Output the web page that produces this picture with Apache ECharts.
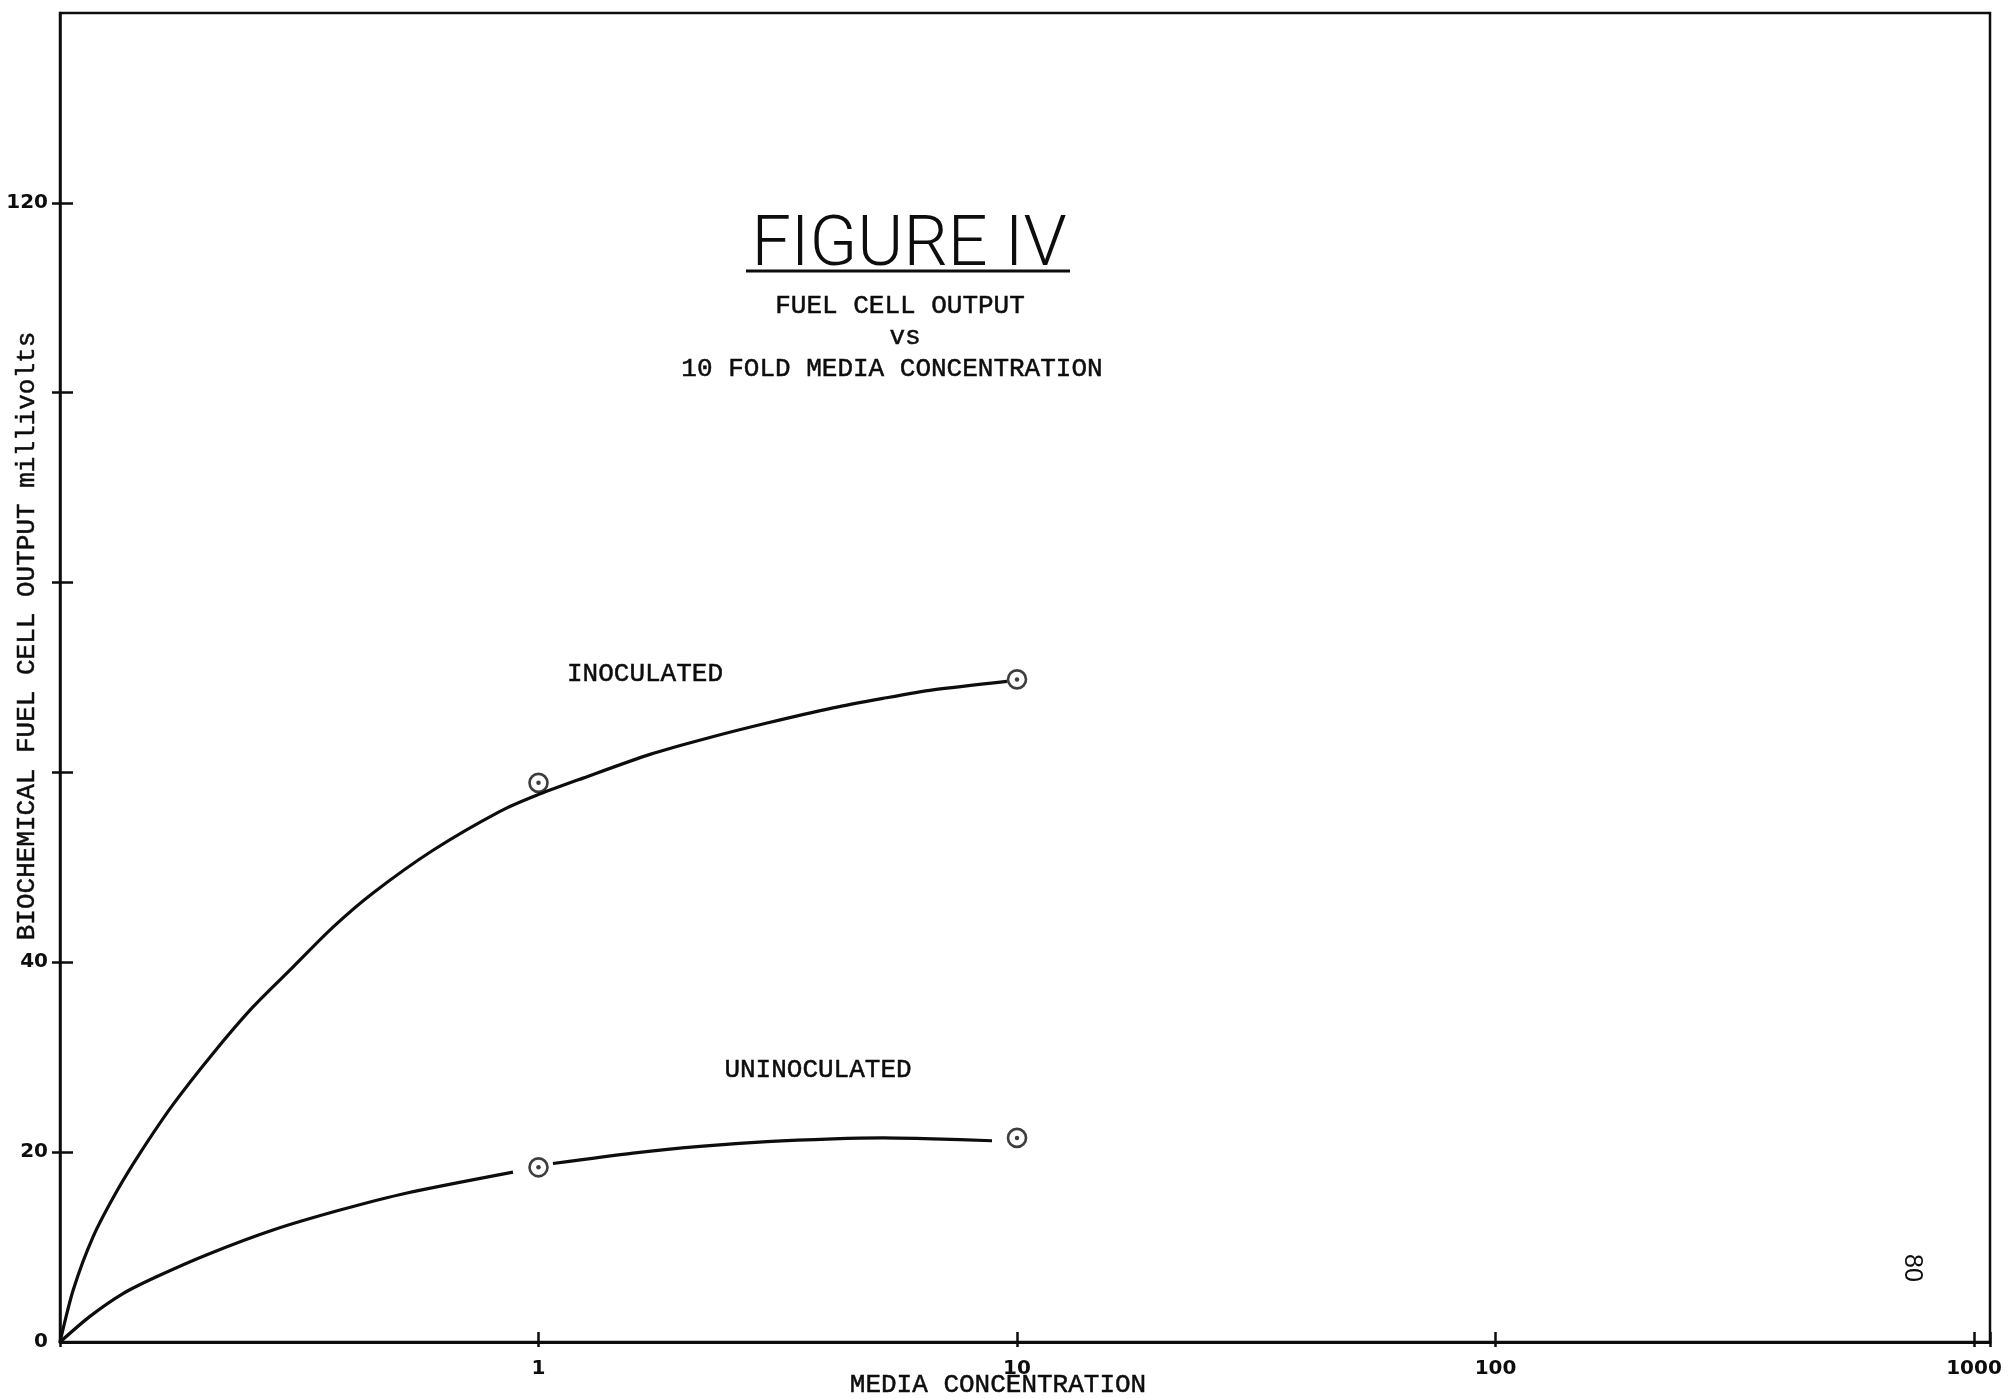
<!DOCTYPE html>
<html>
<head>
<meta charset="utf-8">
<title>Fuel Cell Output vs 10 Fold Media Concentration</title>
<script src="https://cdn.jsdelivr.net/npm/echarts@6/dist/echarts.min.js"></script>
<style>
  html, body { margin: 0; padding: 0; background: #ffffff; }
  #chart { width: 2016px; height: 1399px; }
</style>
</head>
<body>
<div id="chart"></div>
<script>
// Media concentration (log scale) against biochemical fuel cell output (mV).

// Hand-fitted curve through the inoculated cell readings
const inoculatedCurveX = [0.1, 0.1066, 0.1173, 0.1315, 0.147, 0.1722, 0.2088, 0.2531, 0.3068, 0.372, 0.451, 0.6019, 0.8308, 0.991, 1.239, 1.71, 2.25, 3.003, 4.126, 5.248, 6.675, 9.53];
const inoculatedCurveY = [0, 5.5, 11.1, 15.9, 19.9, 25.0, 30.4, 35.3, 39.5, 43.7, 47.3, 51.8, 55.9, 57.6, 59.4, 61.9, 63.6, 65.2, 66.8, 67.8, 68.7, 69.6];

// Hand-fitted curve for the uninoculated cell, broken around the reading at 1
const uninoculatedLowX = [0.1, 0.1155, 0.1354, 0.1595, 0.2028, 0.2787, 0.3848, 0.5312, 0.8845];
const uninoculatedLowY = [0, 2.7, 5.1, 6.9, 9.2, 11.8, 13.9, 15.7, 17.9];
const uninoculatedHighX = [1.072, 1.576, 2.175, 3.003, 4.126, 5.248, 6.675, 8.867];
const uninoculatedHighY = [18.8, 19.9, 20.6, 21.1, 21.4, 21.5, 21.4, 21.2];

// Measured readings
const inoculatedPointsX = [1, 10];
const inoculatedPointsY = [58.9, 69.8];
const uninoculatedPointsX = [1, 10];
const uninoculatedPointsY = [18.4, 21.5];

// Axis ticks and labels
const xTickLabels = [1, 10, 100, 1000];
const yTickValues = [20, 40, 60, 80, 100, 120];
const yTickLabels = [0, 20, 40, 120];

const pairs = (xs, ys) => xs.map((x, i) => [x, ys[i]]);

const INK = '#0d0d0d';
const TYPE_FONT = '"Liberation Mono", "DejaVu Sans Mono", monospace';
const HAND_FONT = '"DejaVu Sans", sans-serif';

const xLabelFormatter = (v) => {
  const r = Math.round(v);
  return (xTickLabels.indexOf(r) >= 0 && Math.abs(v - r) < 1e-6 * Math.max(1, r)) ? String(r) : '';
};
const yLabelFormatter = (v) => (yTickLabels.indexOf(Math.round(v)) >= 0 ? String(Math.round(v)) : '');

const curveStyle = { color: INK, width: 3.2 };
const curveBase = {
  type: 'line', xAxisIndex: 0, yAxisIndex: 0,
  smooth: 0.25, showSymbol: false, symbol: 'none',
  lineStyle: curveStyle, silent: true
};

const centred = { align: 'center', verticalAlign: 'middle', textAlign: 'center', textVerticalAlign: 'middle' };
// Typewritten captions, given a faint outline so the strokes read a little heavier
const typed = (text, x, y, extra) => Object.assign({
  type: 'text', x: x, y: y,
  style: Object.assign({ text: text, fill: INK, stroke: INK, lineWidth: 0.5, font: '26px ' + TYPE_FONT }, centred)
}, extra || {});

const chart = echarts.init(document.getElementById('chart'), null, { renderer: 'canvas' });

chart.setOption({
  backgroundColor: '#ffffff',
  animation: false,
  grid: {
    left: 60, right: 26, top: 13, bottom: 57,
    show: true, borderColor: INK, borderWidth: 2.5, backgroundColor: 'transparent'
  },
  xAxis: [
    {
      type: 'log', logBase: 10, min: 0.1, max: 1080,
      axisLine: { show: true, lineStyle: { color: INK, width: 2.8 } },
      axisTick: { show: true, inside: false, length: 5, lineStyle: { color: INK, width: 2.5 } },
      axisLabel: {
        show: true, margin: 17, color: INK, fontFamily: HAND_FONT, fontWeight: 'bold', fontSize: 20,
        formatter: xLabelFormatter, showMinLabel: true, showMaxLabel: true
      },
      splitLine: { show: false },
      minorTick: { show: false }
    },
    {
      type: 'log', logBase: 10, min: 0.1, max: 1080, position: 'bottom',
      axisLine: { show: false },
      axisTick: { show: true, inside: true, length: 10, lineStyle: { color: INK, width: 2.5 } },
      axisLabel: { show: false },
      splitLine: { show: false }
    }
  ],
  yAxis: [
    {
      type: 'value', min: 0, max: 140, interval: 20, position: 'left',
      axisLine: { show: true, lineStyle: { color: INK, width: 2.5 } },
      axisTick: { show: true, inside: false, length: 8, customValues: yTickValues, lineStyle: { color: INK, width: 2.5 } },
      axisLabel: {
        show: true, margin: 12, color: INK, fontFamily: HAND_FONT, fontWeight: 'bold', fontSize: 20,
        customValues: yTickLabels, formatter: yLabelFormatter
      },
      splitLine: { show: false }
    },
    {
      type: 'value', min: 0, max: 140, interval: 20, position: 'left',
      axisLine: { show: false },
      axisTick: { show: true, inside: true, length: 13, customValues: yTickValues, lineStyle: { color: INK, width: 2.5 } },
      axisLabel: { show: false },
      splitLine: { show: false }
    }
  ],
  series: [
    Object.assign({ name: 'INOCULATED', data: pairs(inoculatedCurveX, inoculatedCurveY) }, curveBase),
    Object.assign({ name: 'UNINOCULATED', data: pairs(uninoculatedLowX, uninoculatedLowY) }, curveBase),
    Object.assign({ name: 'UNINOCULATED', data: pairs(uninoculatedHighX, uninoculatedHighY) }, curveBase),
    // Readings: open circle with a centre dot
    {
      type: 'scatter', xAxisIndex: 0, yAxisIndex: 0, silent: true,
      data: pairs(inoculatedPointsX, inoculatedPointsY).concat(pairs(uninoculatedPointsX, uninoculatedPointsY)),
      symbol: 'circle', symbolSize: 18,
      itemStyle: { color: '#ffffff', borderColor: INK, borderWidth: 2.6 }, z: 5
    },
    {
      type: 'scatter', xAxisIndex: 0, yAxisIndex: 0, silent: true,
      data: pairs(inoculatedPointsX, inoculatedPointsY).concat(pairs(uninoculatedPointsX, uninoculatedPointsY)),
      symbol: 'circle', symbolSize: 4.5,
      itemStyle: { color: INK }, z: 6
    }
  ],
  graphic: [
    {
      type: 'text', x: 909, y: 247,
      style: Object.assign({ text: 'FIGURE IV', fill: INK, font: '300 70px Roboto, "DejaVu Sans", sans-serif' }, centred)
    },
    {
      type: 'line', shape: { x1: 746, y1: 271, x2: 1070, y2: 271 },
      style: { stroke: INK, lineWidth: 3 }
    },
    typed('FUEL CELL OUTPUT', 900, 306),
    typed('vs', 905, 337),
    typed('10 FOLD MEDIA CONCENTRATION', 892, 369),
    typed('INOCULATED', 645, 674),
    typed('UNINOCULATED', 818, 1070),
    typed('MEDIA CONCENTRATION', 998, 1385),
    typed('BIOCHEMICAL FUEL CELL OUTPUT millivolts', 27, 636, { rotation: Math.PI / 2 }),
    {
      type: 'text', x: 1912, y: 1268, rotation: -Math.PI / 2,
      style: Object.assign({ text: '80', fill: INK, font: '25px "Liberation Sans", "DejaVu Sans", sans-serif' }, centred)
    }
  ]
});
</script>
</body>
</html>
